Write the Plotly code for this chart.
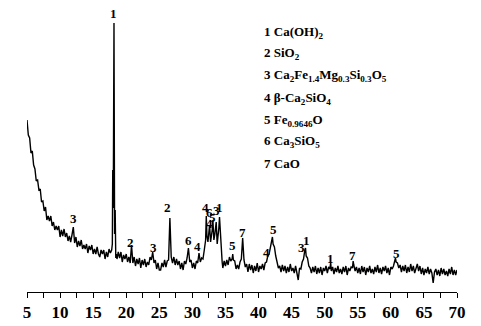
import plotly.graph_objects as go

two_theta = [
    5.0, 5.2, 5.4, 5.6, 5.8, 6.0, 6.2, 6.4, 6.6, 6.8, 7.0, 7.2, 7.4, 7.6, 7.8, 8.0, 8.2, 8.4, 8.6, 8.8,
    9.0, 9.2, 9.4, 9.6, 9.8, 10.0, 10.2, 10.4, 10.6, 10.8, 11.0, 11.2, 11.4, 11.6, 11.8,
    12.0,
    12.2, 12.4, 12.6, 12.8, 13.0, 13.2, 13.4, 13.6, 13.8, 14.0, 14.2, 14.4, 14.6, 14.8, 15.0, 15.2, 15.4,
    15.6, 15.8, 16.0, 16.2, 16.4, 16.6, 16.8, 17.0, 17.2, 17.4, 17.6,
    17.8, 17.9, 17.96, 18.04, 18.15, 18.24, 18.33, 18.42, 18.5,
    18.6, 18.8, 19.0, 19.2, 19.4, 19.6, 19.8, 20.0, 20.2, 20.4, 20.6,
    20.8,
    21.0, 21.2, 21.4, 21.6, 21.8, 22.0, 22.2, 22.4, 22.6, 22.8, 23.0, 23.2, 23.4, 23.6,
    23.8, 24.0,
    24.2, 24.4, 24.6, 24.8, 25.0, 25.2, 25.4, 25.6, 25.8, 26.0, 26.2, 26.4,
    26.6, 26.7,
    26.8, 27.0, 27.2, 27.4, 27.6, 27.8, 28.0, 28.2, 28.4, 28.6, 28.8, 29.0, 29.2,
    29.4,
    29.6, 29.8, 30.0, 30.2, 30.4, 30.6, 30.8,
    31.0,
    31.2, 31.4, 31.6, 31.8, 32.0, 32.1, 32.2, 32.35, 32.45, 32.6, 32.75, 32.9, 33.0, 33.1, 33.25, 33.4,
    33.5, 33.6, 33.75, 33.9, 34.0, 34.1, 34.2, 34.35, 34.5, 34.6,
    34.8, 35.0, 35.2, 35.4, 35.6, 35.8,
    36.0, 36.1, 36.2,
    36.4, 36.6, 36.8, 37.0, 37.2,
    37.4, 37.6, 37.8,
    38.0, 38.2, 38.4, 38.6, 38.8, 39.0, 39.2, 39.4, 39.6, 39.8, 40.0, 40.2, 40.4, 40.6, 40.8, 41.0,
    41.2, 41.4, 41.6, 41.8, 42.0, 42.1, 42.2, 42.4, 42.6, 42.8, 43.0,
    43.2, 43.4, 43.6, 43.8, 44.0, 44.2, 44.4, 44.6, 44.8, 45.0, 45.2, 45.4, 45.6, 45.8,
    46.0, 46.2, 46.4, 46.6, 46.8, 47.0, 47.1, 47.2, 47.4, 47.6, 47.8,
    48.0, 48.2, 48.4, 48.6, 48.8, 49.0, 49.2, 49.4, 49.6, 49.8, 50.0, 50.2, 50.4, 50.6,
    50.8, 50.9, 51.0,
    51.2, 51.4, 51.6, 51.8, 52.0, 52.2, 52.4, 52.6, 52.8, 53.0, 53.2, 53.4, 53.6, 53.8, 54.0,
    54.2, 54.3, 54.4, 54.6,
    54.8, 55.0, 55.2, 55.4, 55.6, 55.8, 56.0, 56.2, 56.4, 56.6, 56.8, 57.0, 57.2, 57.4, 57.6, 57.8,
    58.0, 58.2, 58.4, 58.6, 58.8, 59.0, 59.2, 59.4, 59.6, 59.8, 60.0, 60.2,
    60.4, 60.6, 60.7, 60.8, 61.0, 61.2, 61.4,
    61.6, 61.8, 62.0, 62.2, 62.4, 62.6, 62.8, 63.0, 63.2, 63.4, 63.6, 63.8,
    64.0, 64.2, 64.4,
    64.6, 64.8, 65.0, 65.2, 65.4, 65.6, 65.8, 66.0, 66.2,
    66.4, 66.6,
    66.8, 67.0, 67.2, 67.4, 67.6, 67.8, 68.0, 68.2, 68.4, 68.6, 68.8, 69.0, 69.2, 69.4, 69.6, 69.8, 70.0,
]

intensity = [
    172, 157, 154, 139, 141, 127, 123, 111, 112, 102, 103, 90, 91, 81, 85, 72, 76, 71, 76, 66,
    70, 62, 66, 62, 66, 55, 62, 56, 63, 55, 59, 51, 56, 50, 57,
    65,
    49, 55, 45, 51, 46, 52, 43, 47, 43, 48, 39, 46, 42, 47, 38, 43, 38,
    45, 38, 35, 42, 38, 42, 33, 40, 35, 43, 39,
    42, 48, 122, 84, 269, 58, 82, 34, 38,
    33, 40, 34, 40, 30, 37, 33, 38, 30, 35, 29,
    47,
    29, 35, 26, 33, 28, 34, 24, 32, 27, 33, 25, 30, 27, 35,
    32, 40,
    29, 32, 23, 29, 22, 22, 29, 25, 32, 25, 31, 32,
    74, 40,
    35, 29, 35, 27, 33, 27, 31, 23, 29, 22, 31, 28, 34,
    44,
    30, 32, 24, 29, 23, 31, 29,
    39,
    30, 34, 33, 42, 52, 76, 56, 50, 58, 67, 50, 56, 62, 72, 52, 58,
    64, 70, 48, 55, 64, 75, 60, 40, 30, 24,
    31, 26, 32, 27, 35, 31,
    33, 38, 32,
    31, 23, 27, 23, 30,
    33, 54, 32,
    25, 28, 20, 28, 22, 27, 19, 26, 21, 29, 20, 26, 23, 28, 22, 29,
    30, 36, 38, 46, 52, 55, 48, 45, 36, 31, 24,
    26, 20, 27, 21, 26, 19, 25, 20, 28, 21, 24, 19, 26, 20,
    12, 24, 23, 30, 33, 42, 44, 36, 34, 26, 24,
    19, 25, 20, 26, 18, 24, 19, 25, 17, 24, 21, 26, 19, 25,
    23, 30, 21,
    25, 18, 24, 20, 26, 19, 23, 18, 25, 20, 26, 17, 24, 21, 25,
    24, 31, 27, 21,
    25, 19, 24, 18, 26, 20, 25, 17, 24, 20, 26, 19, 23, 18, 25, 20,
    27, 19, 24, 18, 25, 21, 26, 19, 24, 17, 25, 23,
    26, 30, 34, 30, 29, 24, 27,
    20, 26, 21, 27, 19, 25, 20, 28, 21, 26, 19, 25,
    28, 21, 26,
    18, 24, 17, 23, 19, 25, 18, 23, 19,
    9, 20,
    23, 17, 22, 16, 24, 18, 23, 17, 21, 16, 23, 18, 25, 17, 22, 17, 22,
]

# peak phase labels: text, 2-theta, label height (a.u.)
peak_labels = ["1", "3", "2", "3", "2", "6", "4", "4", "6", "3", "1", "4", "5",
               "5", "7", "4", "5", "3", "1", "1", "7", "5"]
peak_label_x = [18.12, 12.07, 20.67, 24.05, 26.3, 29.45, 30.7, 32.0, 32.6, 33.6, 34.1, 32.6, 33.1,
                36.0, 37.56, 41.2, 42.2, 46.5, 47.2, 50.9, 54.2, 60.8]
peak_label_y = [279, 74, 50, 45, 85, 52, 46, 85, 80, 82, 85, 69, 75,
                47, 60, 40, 63, 45, 52, 34, 37, 39]

legend_lines = [
    "1 Ca(OH)<sub>2</sub>",
    "2 SiO<sub>2</sub>",
    "3 Ca<sub>2</sub>Fe<sub>1.4</sub>Mg<sub>0.3</sub>Si<sub>0.3</sub>O<sub>5</sub>",
    "4 β-Ca<sub>2</sub>SiO<sub>4</sub>",
    "5 Fe<sub>0.9646</sub>O",
    "6 Ca<sub>3</sub>SiO<sub>5</sub>",
    "7 CaO",
]

W, H = 481, 326
ML, MR, MT, MB = 27, 24, 0, 34
serif = "Liberation Serif, Times New Roman, serif"

fig = go.Figure()
fig.add_trace(go.Scatter(x=two_theta, y=intensity, mode="lines",
                         line=dict(color="black", width=1.4), showlegend=False,
                         hoverinfo="skip"))

annotations = []
for t, x, y in zip(peak_labels, peak_label_x, peak_label_y):
    annotations.append(dict(x=x, y=y, xref="x", yref="y", text=t, showarrow=False,
                            xanchor="center", yanchor="middle",
                            font=dict(family=serif, size=13, color="black", weight="bold")))

plot_h = H - MT - MB
legend_px_x = 262
legend_px_y = [32, 54, 76, 98, 120, 142, 163]
for txt, py in zip(legend_lines, legend_px_y):
    annotations.append(dict(x=(legend_px_x - ML) / (W - ML - MR), y=1 - (py - MT) / plot_h,
                            xref="paper", yref="paper", text=txt, showarrow=False,
                            xanchor="left", yanchor="middle",
                            font=dict(family=serif, size=13, color="black", weight="bold")))

fig.update_layout(
    width=W, height=H,
    margin=dict(l=ML, r=MR, t=MT, b=MB, pad=0),
    paper_bgcolor="white", plot_bgcolor="white",
    annotations=annotations,
    xaxis=dict(range=[5, 70], showline=True, linecolor="black", linewidth=1,
               ticks="outside", ticklen=5, tickwidth=1, tickcolor="black",
               tick0=5, dtick=5, showgrid=False, zeroline=False,
               minor=dict(ticks="outside", dtick=2.5, ticklen=5, tickwidth=1, tickcolor="black"),
               tickfont=dict(family=serif, size=17, color="black", weight="bold")),
    yaxis=dict(range=[0, 292], visible=False, showgrid=False, zeroline=False),
)

fig.write_html("out.html")
